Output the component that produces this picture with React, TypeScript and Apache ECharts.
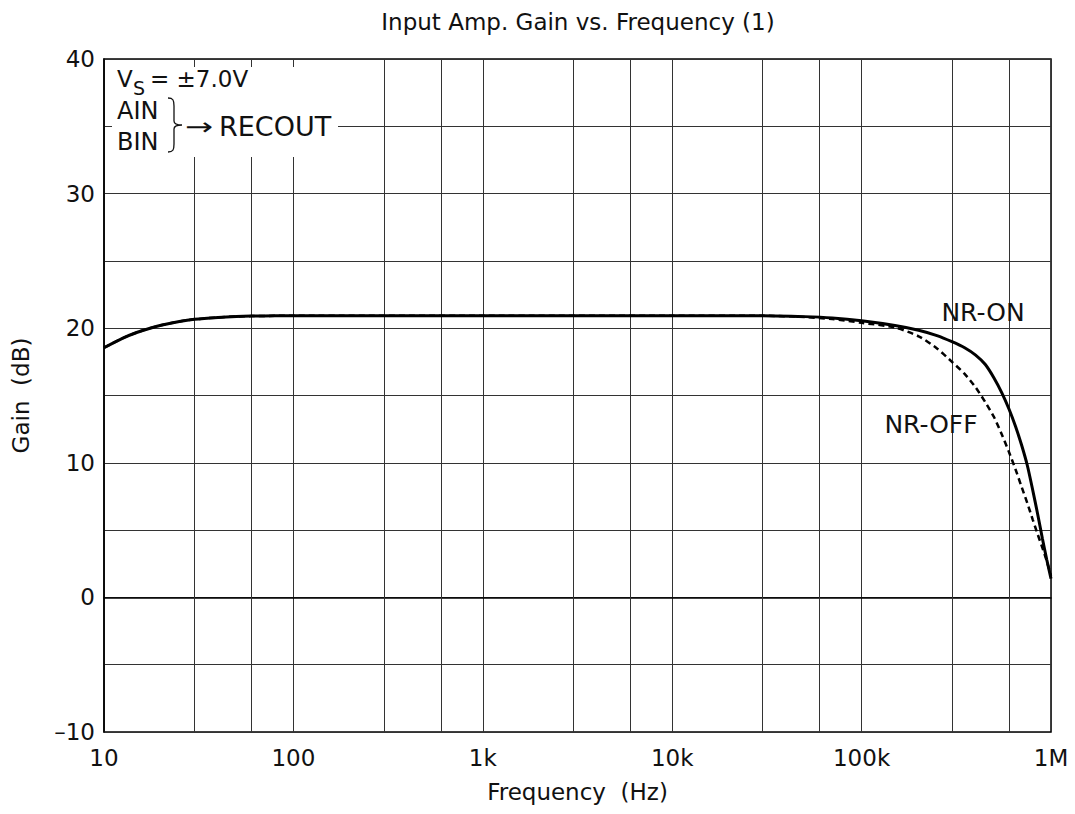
import React, { useEffect, useRef } from "react";
import * as echarts from "echarts";

const freqHz = [
  10, 12.5, 15, 17.5, 20, 25, 30, 40, 50, 60, 80, 100, 1000, 10000, 30000, 50000,
  70000, 100000, 150000, 200000, 250000, 300000, 350000, 400000, 450000, 500000,
  550000, 600000, 650000, 700000, 750000, 800000, 850000, 900000, 950000, 1000000,
];
const gainNrOn = [
  18.55, 19.25, 19.7, 20.0, 20.22, 20.5, 20.66, 20.8, 20.87, 20.9, 20.92, 20.93, 20.93,
  20.93, 20.93, 20.86, 20.76, 20.55, 20.2, 19.85, 19.45, 19.0, 18.55, 18.0, 17.3,
  16.3, 15.2, 14.0, 12.7, 11.3, 9.8, 8.0, 6.2, 4.4, 2.8, 1.4,
];
const gainNrOff = [
  18.55, 19.25, 19.7, 20.0, 20.22, 20.5, 20.66, 20.8, 20.87, 20.9, 20.92, 20.93, 20.93,
  20.93, 20.93, 20.83, 20.68, 20.4, 20.05, 19.4, 18.5, 17.5, 16.6, 15.6, 14.5,
  13.4, 12.1, 10.8, 9.5, 8.2, 7.0, 5.8, 4.7, 3.7, 2.7, 1.6,
];
const minorGridFreqs = [
  30, 60, 300, 600, 3000, 6000, 30000, 60000, 300000, 600000,
];
const xTickLabels: Record<number, string> = {
  10: "10",
  100: "100",
  1000: "1k",
  10000: "10k",
  100000: "100k",
  1000000: "1M",
};

const FONT = "'DejaVu Sans', 'Liberation Sans', Arial, sans-serif";

const bracePath =
  "M0,0 C5,0 6,2 6,8 L6,23 C6,26 9,27 14,27 C9,27 6,28 6,31 L6,46 C6,52 5,54 0,54";

export default function App() {
  const ref = useRef<HTMLDivElement>(null);
  useEffect(() => {
    if (!ref.current) return;
    try {
      echarts.graphic.registerShape("brace", echarts.graphic.extendPath(bracePath, {}));
    } catch (e) {}
    const chart = echarts.init(ref.current, null, { renderer: "svg" });
    const gridLine = { color: "#333", width: 1 };
    const txt = (text: string, x: number, y: number, size: number, extra: any = {}) => ({
      type: "text",
      x,
      y,
      z: 101,
      ...extra,
      style: {
        text,
        fontSize: size,
        fill: "#111",
        fontFamily: FONT,
        verticalAlign: "middle",
        ...(extra.style || {}),
      },
    });
    chart.setOption({
      animation: false,
      backgroundColor: "#fff",
      textStyle: { fontFamily: FONT },
      grid: {
        left: 104,
        right: 24,
        top: 59,
        bottom: 82,
        show: true,
        borderColor: "#000",
        borderWidth: 1.5,
      },
      xAxis: {
        type: "log",
        logBase: 10,
        min: 10,
        max: 1000000,
        name: "Frequency  (Hz)",
        nameLocation: "middle",
        nameGap: 48,
        nameTextStyle: { fontSize: 23, color: "#111", fontFamily: FONT },
        axisLine: { lineStyle: { color: "#000", width: 1.5 } },
        axisTick: { show: false },
        axisLabel: {
          fontSize: 23,
          color: "#111",
          margin: 14,
          fontFamily: FONT,
          formatter: (v: number) => xTickLabels[Math.round(v)] ?? "",
        },
        splitLine: { show: true, lineStyle: gridLine },
      },
      yAxis: {
        type: "value",
        min: -10,
        max: 40,
        interval: 5,
        name: "Gain  (dB)",
        nameLocation: "middle",
        nameGap: 72,
        nameTextStyle: { fontSize: 23, color: "#111", fontFamily: FONT },
        axisLine: { lineStyle: { color: "#000", width: 1.5 } },
        axisTick: { show: false },
        axisLabel: {
          fontSize: 23,
          color: "#111",
          margin: 9,
          fontFamily: FONT,
          formatter: (v: number) =>
            v % 10 === 0 ? (v < 0 ? "\u2013" + Math.abs(v) : String(v)) : "",
        },
        splitLine: { show: true, lineStyle: gridLine },
      },
      series: [
        {
          name: "NR-OFF",
          type: "line",
          data: freqHz.map((f, i) => [f, gainNrOff[i]]),
          showSymbol: false,
          smooth: 0.25,
          lineStyle: { color: "#000", width: 2.5, type: [6, 4] },
          z: 3,
          markLine: {
            silent: true,
            symbol: ["none", "none"],
            label: { show: false },
            lineStyle: { color: "#333", width: 1, type: "solid" },
            data: minorGridFreqs.map((f) => ({ xAxis: f })),
            z: 1,
          },
        },
        {
          name: "NR-ON",
          type: "line",
          data: freqHz.map((f, i) => [f, gainNrOn[i]]),
          showSymbol: false,
          smooth: 0.25,
          lineStyle: { color: "#000", width: 3 },
          z: 4,
        },
      ],
      graphic: [
        txt("Input Amp. Gain vs. Frequency (1)", 578, 22, 23, { style: { align: "center" } }),
        {
          type: "rect",
          z: 100,
          shape: { x: 112, y: 67, width: 226, height: 90 },
          style: { fill: "#fff" },
        },
        txt("V", 117, 79, 23),
        txt("S", 133, 88, 19),
        txt("= \u00b17.0V", 150, 79, 23),
        txt("AIN", 117, 111, 24),
        txt("BIN", 117, 142, 24),
        {
          type: "brace",
          x: 168,
          y: 98,
          z: 101,
          shape: {},
          style: { stroke: "#111", lineWidth: 1.3, fill: null },
        },
        txt("\u2192", 185, 127, 24, { scaleX: 1.4 }),
        txt("RECOUT", 219, 126, 27),
        txt("NR-ON", 983, 312, 25, { style: { align: "center" } }),
        txt("NR-OFF", 931, 424, 25, { style: { align: "center" } }),
      ],
    });
    return () => chart.dispose();
  }, []);
  return (
    <div
      ref={ref}
      style={{ position: "fixed", left: 0, top: 0, width: 1075, height: 814, background: "#fff" }}
    />
  );
}
